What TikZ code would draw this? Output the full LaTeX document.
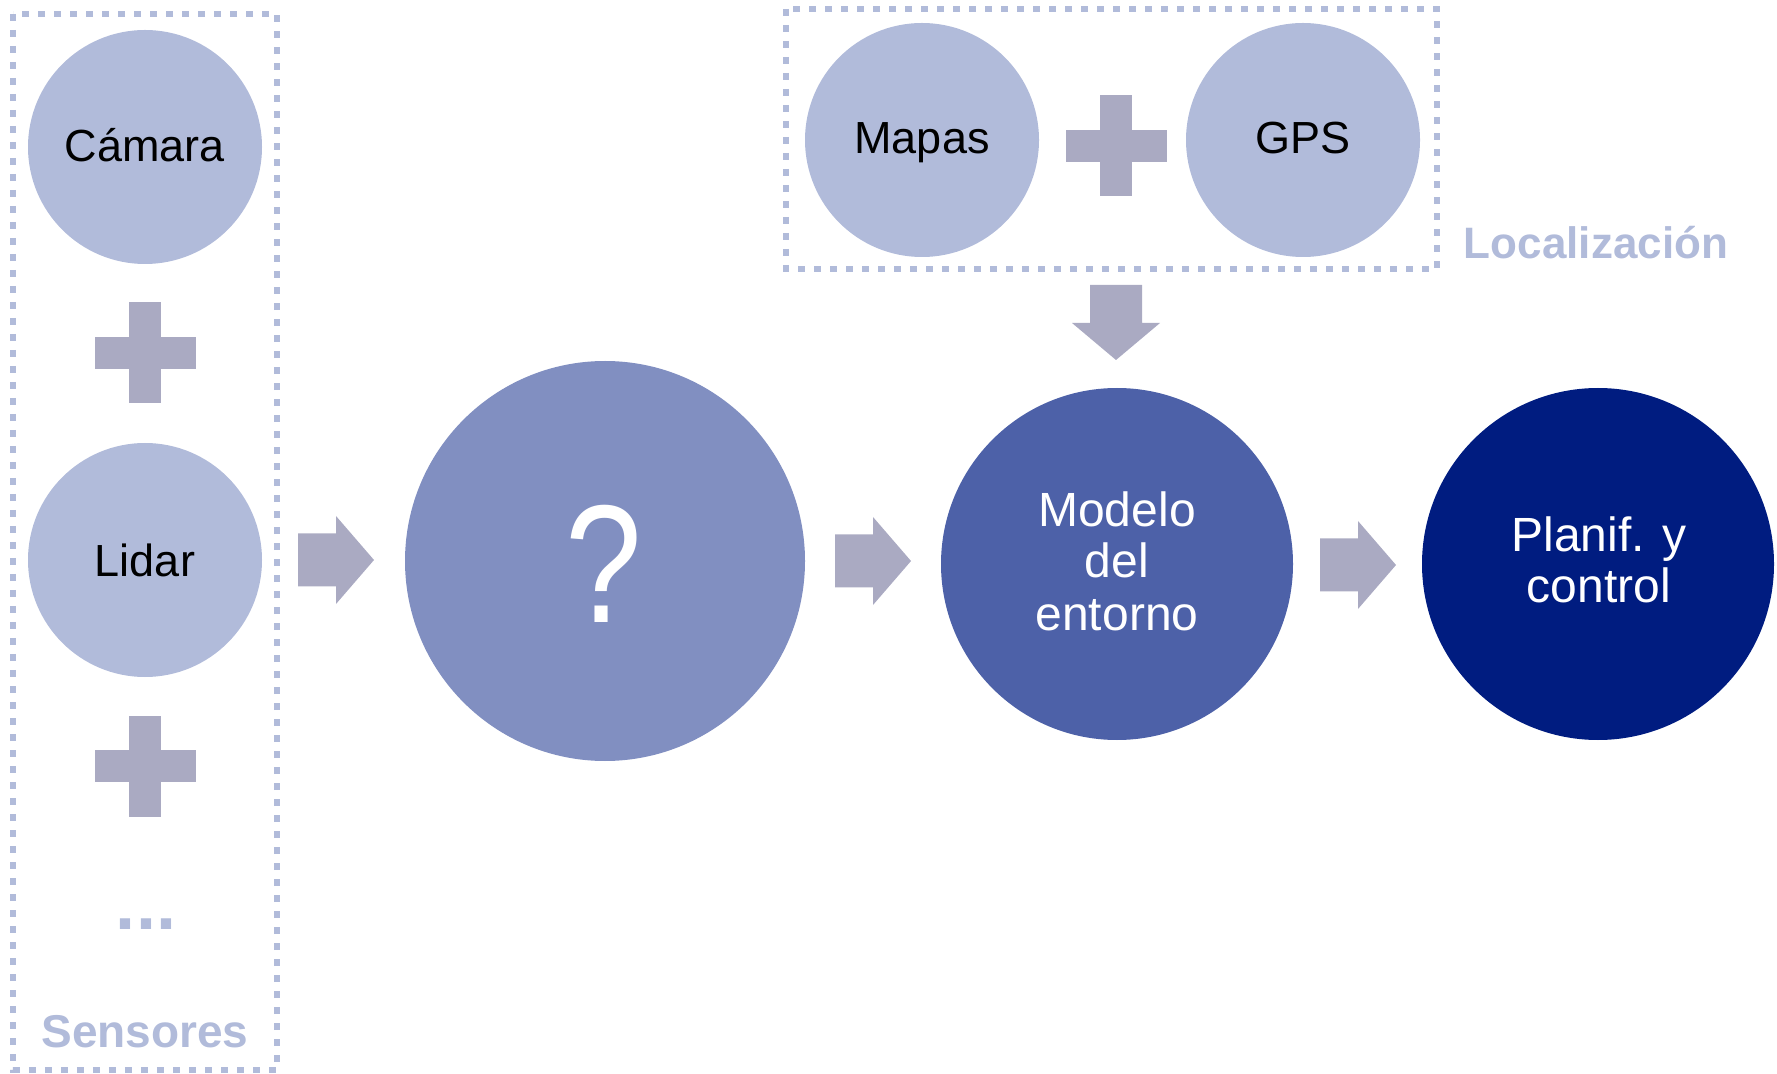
\documentclass[tikz,border=0pt]{standalone}
\usepackage{fontspec}
\setmainfont{Liberation Sans}
\definecolor{lightc}{RGB}{177,187,218}
\definecolor{plusc}{RGB}{170,170,194}
\definecolor{midc}{RGB}{129,143,193}
\definecolor{modc}{RGB}{77,97,168}
\definecolor{darkc}{RGB}{0,28,128}
\begin{document}
\begin{tikzpicture}[x=0.5pt,y=-0.5pt,
  bubble/.style={circle,inner sep=0pt,minimum size=#1},
  dotbox/.style={draw=lightc,line width=3.4pt,dash pattern=on 3.4pt off 4.6pt},
  txt/.style={anchor=base,inner sep=0pt,font=\fontsize{22.5}{27}\selectfont},
  wtxt/.style={anchor=base,inner sep=0pt,text=white,font=\fontsize{24}{28}\selectfont},
  grouplabel/.style={anchor=base,inner sep=0pt,text=lightc,font=\bfseries\fontsize{#1}{#1}\selectfont},
  plusfill/.style={fill=plusc}]
\useasboundingbox (0,0) rectangle (1777,1074);

% dotted group frames
\draw[dotbox] (13,14) rectangle (277,1070);
\draw[dotbox] (786,9) rectangle (1437,269);

% circles
\node[bubble=117pt,fill=lightc] (camara) at (145,147) {};
\node[bubble=117pt,fill=lightc] (lidar) at (145,560) {};
\node[bubble=117pt,fill=lightc] (mapas) at (922,140) {};
\node[bubble=117pt,fill=lightc] (gps) at (1303,140) {};
\node[bubble=200pt,fill=midc] (q) at (605,561) {};
\node[bubble=176pt,fill=modc] (modelo) at (1117,564) {};
\node[bubble=176pt,fill=darkc] (planif) at (1598,564) {};

% texts
\node[txt] (tcamara) at (145,162) {Cámara};
\node[txt] (tlidar) at (145,576) {Lidar};
\node[txt] (tmapas) at (922,154) {Mapas};
\node[txt] (tgps) at (1303,154) {GPS};
\node[anchor=base,inner sep=0pt,text=white,font=\fontsize{84}{90}\selectfont] (tq) at (604,623) {\scalebox{0.82}[1]{?}};
\node[wtxt] (tmod1) at (1117,527) {Modelo};
\node[wtxt] (tmod2) at (1117,578) {del};
\node[wtxt] (tmod3) at (1117,630) {entorno};
\node[wtxt] (tpl1) at (1599,552) {Planif. y};
\node[wtxt] (tpl2) at (1599,603) {control};
\node[grouplabel=23pt] (tsens) at (145,1047) {Sensores};
\node[grouplabel=22pt] (tloc) at (1596,259) {Localización};
\node[grouplabel=36pt] (tdots) at (146,929) {...};

% plus signs
\foreach \cx/\cy in {145/353, 145/766, 1116/146}{
  \fill[plusfill] (\cx,\cy) +(-16,-50.5) rectangle +(16,50.5);
  \fill[plusfill] (\cx,\cy) +(-50.5,-16) rectangle +(50.5,16);
}

% block arrows (right)
\foreach \sx/\sy in {298/560, 835/561, 1320/565}{
  \fill[plusfill] (\sx,\sy) ++(0,-26.5) -- ++(38,0) -- ++(0,-17.5) -- ++(38,44)
    -- ++(-38,44) -- ++(0,-17.5) -- ++(-38,0) -- cycle;
}
% block arrow (down)
\fill[plusfill] (1116,285) ++(-26,0) -- ++(0,38) -- ++(-18,0) -- ++(44,37)
  -- ++(44,-37) -- ++(-18,0) -- ++(0,-38) -- cycle;
\end{tikzpicture}
\end{document}
